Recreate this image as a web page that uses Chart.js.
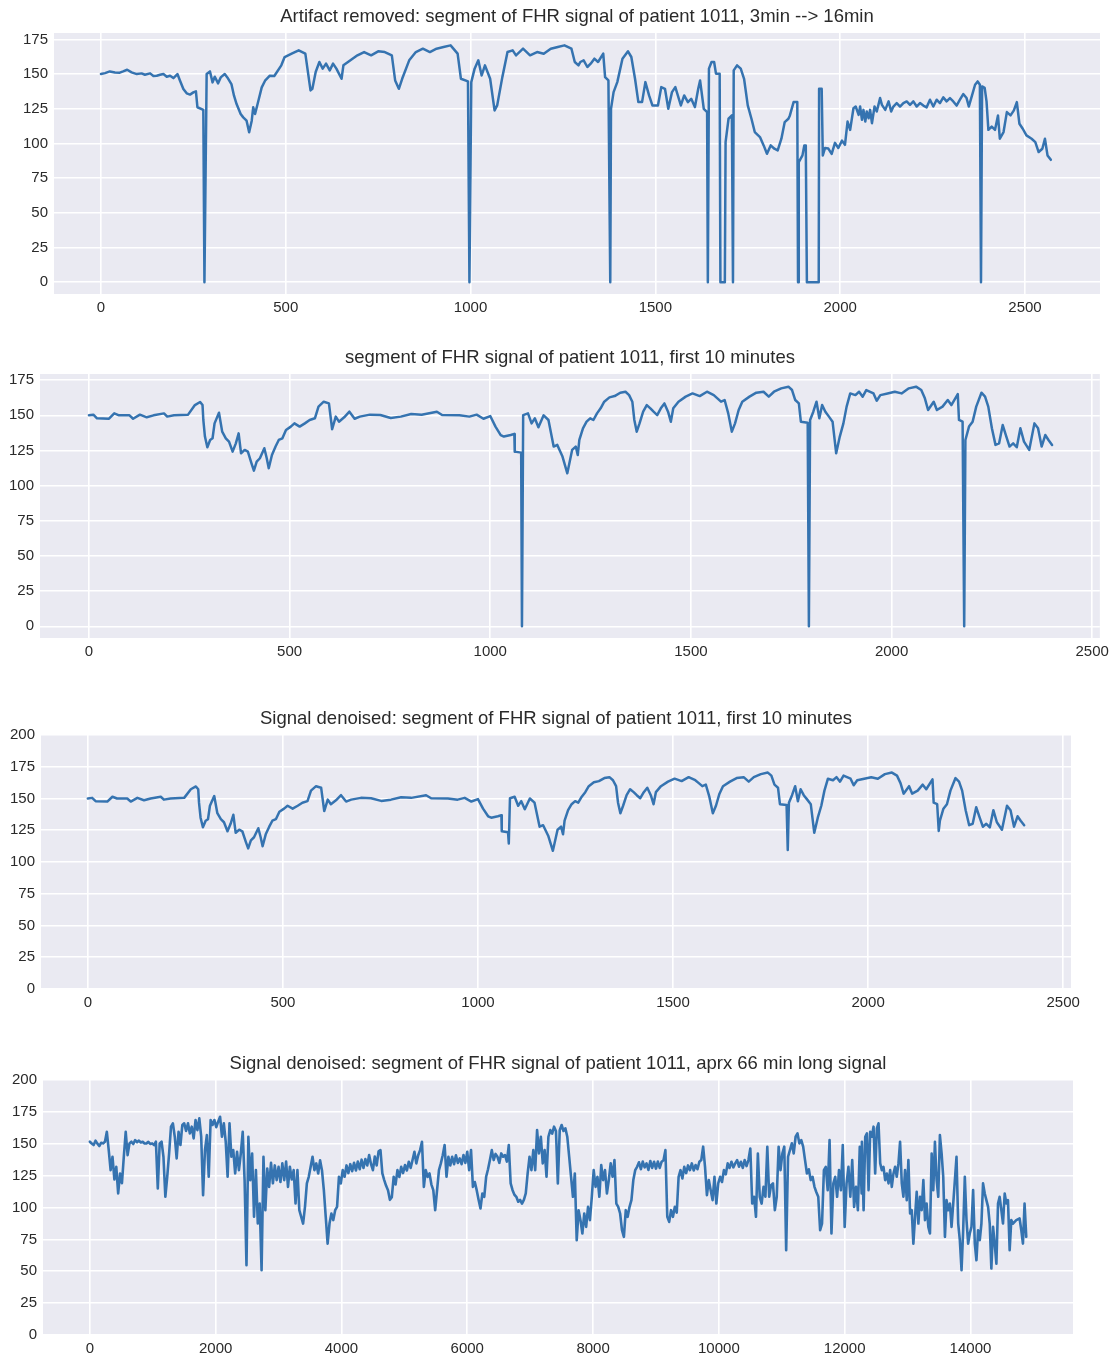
<!DOCTYPE html>
<html>
<head>
<meta charset="utf-8">
<script src="https://cdn.jsdelivr.net/npm/chart.js@4.4.1/dist/chart.umd.min.js"></script>
<style>
  html,body{margin:0;padding:0;background:#fff;}
  body{width:1114px;height:1355px;position:relative;overflow:hidden;}
  canvas{position:absolute;left:0;}
</style>
</head>
<body>
<script>
// ---------------- DATA ----------------
const titles = [
  "Artifact removed: segment of FHR signal of patient 1011, 3min --> 16min",
  "segment of FHR signal of patient 1011, first 10 minutes",
  "Signal denoised: segment of FHR signal of patient 1011, first 10 minutes",
  "Signal denoised: segment of FHR signal of patient 1011, aprx 66 min long signal"
];
const xTicksShort = [0, 500, 1000, 1500, 2000, 2500];
const xTicksLong = [0, 2000, 4000, 6000, 8000, 10000, 12000, 14000];
const yTicks175 = [0, 25, 50, 75, 100, 125, 150, 175];
const yTicks200 = [0, 25, 50, 75, 100, 125, 150, 175, 200];

// Panel 1: artifact removed, 3min --> 16min
const p1X = [0,11,24,38,51,60,71,83,97,110,
  119,133,142,151,160,169,178,187,196,207,
  214,223,232,241,250,257,261,277,280,286,
  295,302,308,317,324,335,342,353,360,367,
  378,385,394,401,408,412,417,426,435,444,
  457,469,488,497,516,535,553,567,
  572,581,591,600,609,619,628,637,651,656,
  675,694,712,731,750,768,787,796,806,815,
  834,852,871,890,908,927,946,965,974,993,
  997,1002,1011,1021,1030,1039,1053,1065,1072,1086,
  1100,1114,1123,1142,1161,1180,1198,1217,1236,1254,
  1273,1282,1292,1297,1306,1316,1325,1335,1345,1359,
  1364,1373,1378,1380,1387,1397,1411,1426,1435,1445,
  1454,1464,1473,1483,1492,1507,1516,1526,1535,1545,
  1554,1569,1578,1588,1597,1607,1616,1621,1631,1640,
  1642,1645,1652,1659,1664,1674,1676,1688,1690,1698,
  1707,1710,1712,1721,1731,1740,1750,1760,1769,1783,
  1793,1802,1812,1822,1831,1841,1850,1860,1864,1874,
  1884,1886,1888,1898,1903,1907,1910,1942,1943,1950,
  1953,1959,1968,1977,1986,1995,2005,2013,2020,2027,
  2036,2042,2050,2054,2059,2063,2068,2072,2077,2081,
  2086,2093,2099,2108,2113,2122,2131,2138,2144,2153,
  2162,2171,2180,2189,2198,2207,2216,2225,2234,2243,
  2252,2261,2270,2279,2288,2297,2306,2315,2324,2333,
  2342,2348,2356,2365,2372,2378,2381,2384,2391,2396,
  2401,2410,2419,
  2427,2432,2442,2451,2461,2470,2478,2485,2494,
  2504,2518,2528,2537,2547,2554,2561,2570];
const p1Y = [150,150.7,151.9,151.2,151,151.9,153.1,151.2,150,150.5,
  149.5,150.5,148.6,148.8,149.5,150,148.1,148.8,147.1,150,
  145.2,139.2,136.1,135.2,136.8,137.6,126.1,124.2,0,150,
  151.9,144,148.1,143.3,147.6,150,147.6,142.8,134.4,128.4,
  121.2,118.8,116.4,108,116.4,126.1,121.2,130.8,140.4,145.2,
  148.8,148.6,156.3,162.3,164.7,167.1,164.7,138.2,
  139.4,151.5,158.7,153.9,157.5,152.7,157.5,153.9,146.6,156.3,
  159.9,163.5,165.9,163.5,166.4,165.9,163.5,145.4,139.4,146.6,
  159.9,165.9,168.3,165.9,168.3,169.5,170.7,164.7,146.6,144.7,
  0,144.2,153.9,159.9,149,156.3,146.6,123.8,127.4,147.8,
  165.9,167.1,163.5,168.3,163.5,165.9,164.7,168.3,169.5,170.7,
  168.3,158.7,156.3,158.7,159.9,155.1,157.5,161.1,158.7,164.7,
  147.8,145.4,0,125,137,144.2,161.1,166.4,162.3,146.6,
  129.8,129.8,144.2,134.6,127.4,127.4,140.6,139.4,125,137,
  140.6,127.4,134.6,129.8,132.2,126.2,139.4,145.4,125,122.6,
  0,153.9,158.7,158.7,150.3,150.3,0,0,101,117.8,
  120.2,0,152.7,156.3,153.9,146.6,127.4,117.8,108.2,104.6,
  98.6,92.6,98.6,96.2,95,103.4,115.4,117.8,120.2,129.8,
  129.8,0,86.5,91.4,98.6,98.6,0,0,139.4,139.4,
  91.4,96.7,96.3,92.5,100.4,96.7,102,99,115.8,109.8,
  125.4,126.6,120.6,126.6,117,124.2,115.8,123,118.2,124.2,
  114.6,126.6,123,132.7,127.8,124.2,130.3,123,126.6,129.1,
  126.6,129.1,130.3,127.8,130.3,126.6,129.1,127.3,126,131.5,
  126.6,131.5,129.1,133.2,130.3,132.7,130.3,127.3,131.5,135.6,
  132.7,126.6,133.9,142.3,144.7,142.3,0,141.1,140,130.3,
  109.8,112.2,109.8,
  120.2,103.4,108.2,122.6,120.2,123.8,129.8,114.2,110.6,
  105.8,103.4,101,93.8,96.2,103.4,91.4,88.2];

// Panels 2 and 3: first 10 minutes (same sample positions)
const p2X = [0,11,20,50,63,75,101,110,127,144,
  161,187,195,212,247,264,277,283,285,289,
  295,302,308,313,324,332,341,349,358,366,
  373,379,388,396,405,411,418,426,437,443,
  448,456,465,473,482,491,503,512,525,538,
  550,563,572,585,598,606,615,623,636,649,
  662,675,700,726,752,777,803,829,867,880,
  923,948,966,983,1000,1013,1026,1034,1051,1060,
  1061,1077,1079,1082,1094,1103,1111,1120,1133,1145,
  1158,1167,1180,1192,1204,1213,1218,1222,1231,1240,
  1249,1257,1266,1275,1284,1297,1310,1324,1337,1346,
  1354,1359,1365,1372,1381,1390,1399,1407,1416,1425,
  1434,1443,1450,1456,1469,1487,1504,1522,1540,1557,
  1566,1575,1584,1593,1602,1610,1619,1628,1646,1663,
  1681,1694,1707,1725,1743,1752,1760,1769,1774,1791,
  1794,1797,1805,1813,1820,1827,1835,1844,1853,1862,
  1871,1880,1888,1897,1910,1919,1928,1937,1955,1963,
  1972,1990,2008,2025,2043,2061,2074,2083,2091,2105,
  2113,2127,2140,2149,2165,2168,2177,2181,2184,2193,
  2202,2211,2224,2233,2241,2250,2259,2268,2277,2286,
  2294,2303,2312,2321,2330,2343,2356,2365,2374,2383,
  2391,2400];
const p2Y = [150,150.5,147.9,147.6,151.4,150,150,147.6,150.5,148.6,
  150,151.4,149.1,150,150.5,157.3,159.5,157.3,146.7,134.9,
  127.3,132.5,133.7,144.3,151.9,138.4,133.7,131.3,124.2,130.1,
  137.2,123,125.4,124.2,115.9,110.7,117.1,119.5,126.6,119.5,
  112.4,121.8,127.8,132.5,133.7,139.6,142,144.3,142,144.3,
  146.7,147.9,156.2,159.7,158.5,140.1,149.1,145.5,148.6,152.6,
  147.6,149.1,150.5,150.2,148.1,149.1,151,150.5,152.6,150.2,
  150,149.1,150.5,147.6,149.5,142,136,134.9,136,136.8,
  124.2,123.5,0,150.2,151.4,144.3,147.9,141.5,150,146.7,
  127.8,129,120.7,108.8,125.4,127.8,121.8,132.5,140.8,145.5,
  147.9,146.7,151.4,155,159.7,162.8,163.7,166.1,166.8,164.4,
  159.7,146.7,138.4,144.3,152.6,157.3,155,152.6,150.2,155,
  158.5,152.6,145.5,155,159.7,163.3,165.6,163.7,166.8,164.4,
  162.1,159.7,160.9,151.4,138.4,144.3,153.8,159.7,163.3,166.1,
  166.8,163.3,166.8,169.2,170.4,168,160.9,158.5,145.5,144.8,
  0,146.7,152.6,159.7,147.9,157.3,152.6,149.1,145.5,123,
  134.9,144.3,156.2,165.6,164.4,166.8,163.3,168,165.6,160.4,
  164.4,165.6,166.8,165.6,169.2,170.4,168,162.1,153.8,159.7,
  153.8,156.2,160.9,157.3,165.1,146.7,145.5,0,132.5,142,
  145.5,156.2,166.1,163.3,156.2,140.8,129,130.1,143.1,134.9,
  127.8,130.1,127.3,140.8,131.3,125.4,144.3,140.8,127.8,136,
  132.5,129];
const p3Y = [150,150.5,147.9,147.6,151.4,150,150,147.6,150.5,148.6,
  150,151.4,149.1,150,150.5,157.3,159.5,157.3,146.7,134.9,
  127.3,132.5,133.7,144.3,151.9,138.4,133.7,131.3,124.2,130.1,
  137.2,123,125.4,124.2,115.9,110.7,117.1,119.5,126.6,119.5,
  112.4,121.8,127.8,132.5,133.7,139.6,142,144.3,142,144.3,
  146.7,147.9,156.2,159.7,158.5,140.1,149.1,145.5,148.6,152.6,
  147.6,149.1,150.5,150.2,148.1,149.1,151,150.5,152.6,150.2,
  150,149.1,150.5,147.6,149.5,142,136,134.9,136,136.8,
  124.2,123.5,114.6,150.2,151.4,144.3,147.9,141.5,150,146.7,
  127.8,129,120.7,108.8,125.4,127.8,121.8,132.5,140.8,145.5,
  147.9,146.7,151.4,155,159.7,162.8,163.7,166.1,166.8,164.4,
  159.7,146.7,138.4,144.3,152.6,157.3,155,152.6,150.2,155,
  158.5,152.6,145.5,155,159.7,163.3,165.6,163.7,166.8,164.4,
  162.1,159.7,160.9,151.4,138.4,144.3,153.8,159.7,163.3,166.1,
  166.8,163.3,166.8,169.2,170.4,168,160.9,158.5,145.5,144.8,
  109.4,146.7,152.6,159.7,147.9,157.3,152.6,149.1,145.5,123,
  134.9,144.3,156.2,165.6,164.4,166.8,163.3,168,165.6,160.4,
  164.4,165.6,166.8,165.6,169.2,170.4,168,162.1,153.8,159.7,
  153.8,156.2,160.9,157.3,165.1,146.7,145.5,124.5,132.5,142,
  145.5,156.2,166.1,163.3,156.2,140.8,129,130.1,143.1,134.9,
  127.8,130.1,127.3,140.8,131.3,125.4,144.3,140.8,127.8,136,
  132.5,129];

// Panel 4: ~66 min long denoised signal
// first part: one reading every p4Step samples, from sample 0 to 12270
const p4Step = 30;
const p4aY = [
  151.6,150.2,149.0,152.4,150.1,148.2,150.8,150.3,151.5,159.4,
  145,129.3,139.8,122,131.9,111,126.7,119,140,159.4,
  141.1,150.3,151.6,149.8,152.9,151.2,152.5,151,151.6,150.2,
  150.3,151.5,149.8,150.3,149,151.6,114.9,150.3,151.6,139.8,
  108.4,124.1,142.4,163.4,166,155.5,138.5,159.4,149,164.7,
  166,160,166,158.1,163.4,154.2,168.6,160.7,169.9,155.5,
  109.7,145,156.8,124.1,168.6,164.7,168.6,163,167.3,171.2,
  155.5,166,151.6,124.1,166,139.8,145,126.7,143.7,129.3,
  142.4,159.4,121.5,54.7,155.5,121.5,142.4,92.7,129.3,87.4,
  103.1,50.8,139.8,97.9,130.6,116.2,135,119,133,121.5,
  131.9,120,134.6,121.5,136,116.2,132,122,129.3,103.1,
  129.3,97.9,92.7,87.4,100.5,118.9,124.1,131.9,139.8,129.3,
  134.6,126.7,137,129.3,113.6,92.7,71.7,87.4,95.3,90.1,
  97.9,100.5,124.1,118.9,129.3,124.1,133,127,134,128.5,
  135,129,136,130,137.5,131,138,133,141.1,134,
  129.3,140,133,144,145,126.7,121.5,117,113.6,106,
  108,124.1,118,129.3,124,131.9,127,133.3,129,135.9,
  131,137.2,143.7,134.6,141,145,151.6,116.2,129.3,124,
  126.7,118,113.6,97.9,113.6,129.3,134.6,141,149,124.1,
  139.8,133,139.8,134,141,135,138.5,134,141.1,135,
  143.7,129.3,145,116.2,120,113.6,106,99.2,111,108.4,
  124.1,130,137.2,145,137.2,142,139.8,135,142.4,139.8,
  141.1,136,149,118.9,113.6,110,108.4,104.5,106,103.1,
  106,111,126.7,139.8,129.3,145,129.3,160.7,142.4,155.5,
  134.6,145,124.1,155.5,160.7,158,163.4,160,118.9,160.7,
  164.7,160,162.1,155.5,140,124.1,108.4,126.7,74.4,97.9,
  90.1,79.6,95.3,84.8,100.5,90.1,108.4,129.3,116.2,124.1,
  108.4,133.3,121.5,129.3,111,121.5,134.6,124.1,137.2,103.1,
  100.5,95.3,82.2,77,97.9,92.7,100.5,105.8,121.5,129.3,
  131.9,135.5,130,136,131.5,134.6,129.5,136.5,131,135.9,
  130.5,136,131,135.9,137,145,92.7,88.7,97.9,92.7,
  100.5,96,124.1,129.3,122.8,131.9,127,133,129.3,134.6,
  129,133.3,130,135.9,137.2,147.7,131.9,109.7,121.5,113.6,
  105.8,124.1,103.1,118.9,124.1,120,129.3,126,134.6,131,
  135.9,131.5,134.6,137.2,132,135.9,131,137.2,132.5,137.2,
  146.3,103.1,108.4,92.7,142.4,108.4,103.1,116.2,108.4,147.7,
  108.4,117.5,118.9,97.9,108.4,147.7,129.3,142.4,147.7,66.5,
  139.8,145,150.3,142.4,155.5,158.1,150.3,152.9,147.7,137.2,
  126.7,130,121.5,124,116.2,112,108.4,82.2,87.4,129.3,
  131.9,113.6,152.9,79.6,118.9,124.1,108.4,129.3,113.6,149,
  84.8,118.9,131.9,108.4,137.2,100.5,116.2,97.9,147.7,111];
// last part: sample positions read individually
const p4bX = [12274,12301,12327,12354,12380,12406,12433,12459,12485,12512,
  12538,12565,12591,12617,12644,12670,12697,12723,12749,12776,
  12802,12828,12855,12881,12908,12934,12960,12987,13013,13040,
  13066,13092,13119,13145,13172,13198,13224,13251,13277,13303,
  13330,13356,13383,13409,13435,13462,13488,13514,13541,13567,
  13594,13620,13646,13673,13699,13726,13778,13805,13831,13858,
  13884,13910,13937,13963,13989,14016,14042,14069,14095,14121,
  14148,14174,14200,14227,14253,14280,14306,14332,14359,14385,
  14412,14438,14464,14491,14517,14544,14570,14596,14623,14649,
  14676,14728,14781,14808,14834,14860,14887];
const p4bY = [151.6,97.9,155.5,158.1,113.6,159.4,155.5,163.4,126.7,162.1,
  166,134.6,129.3,131.9,121.5,126.7,118.9,129.3,116.2,126.7,
  131.9,124.1,134.6,151.6,118.9,108.4,129.3,105.8,137.2,95.3,
  97.9,71.7,92.7,112.3,87.4,108.4,97.9,121.5,90.1,103.1,
  84.8,79.6,142.4,113.6,151.6,121.5,108.4,156.8,142.4,124.1,
  77,105.8,97.9,103.1,84.8,103.1,139.8,87.4,74.4,50.8,
  82.2,124.1,90.1,71.7,79.6,84.8,113.6,71.7,58.6,82.2,
  74.4,87.4,118.9,111,105.8,100.5,87.4,52.1,84.8,71.7,
  56,103.1,108.4,97.9,87.4,111,103.1,105.8,66.5,90.1,
  87.4,90.1,91.4,82.2,71.7,103.1,77];

// ---------------- RENDERING ----------------
const LINE_COLOR = '#3573b0';
const BG = '#eaeaf2';
const TEXT = '#2a2a2a';
const FONT = "'Liberation Sans', Arial, Helvetica, sans-serif";

const toPts = (xs, ys) => xs.map((xv, i) => ({x: xv, y: ys[i]}));
const p4Points = p4aY.map((yv, i) => ({x: i * p4Step, y: yv})).concat(toPts(p4bX, p4bY));

const panels = [
  {pts: toPts(p1X, p1Y), title: titles[0], xt: xTicksShort, yt: yTicks175, lw: 2.5,
   g: {L: 54, R: 1100, T: 33, B: 294, xmin: -127, xmax: 2703, ymin: -8.5, ymax: 179.6}},
  {pts: toPts(p2X, p2Y), title: titles[1], xt: xTicksShort, yt: yTicks175, lw: 2.5,
   g: {L: 40, R: 1101, T: 374, B: 638, xmin: -122, xmax: 2519, ymin: -8.3, ymax: 179.4}},
  {pts: toPts(p2X, p3Y), title: titles[2], xt: xTicksShort, yt: yTicks200, lw: 2.5,
   g: {L: 41, R: 1071, T: 735, B: 989, xmin: -120, xmax: 2520, ymin: 0, ymax: 200}},
  {pts: p4Points, title: titles[3], xt: xTicksLong, yt: yTicks200, lw: 2.6,
   g: {L: 43, R: 1073, T: 1080, B: 1335, xmin: -745, xmax: 15630, ymin: 0, ymax: 200}}
];

const bgPlugin = {
  id: 'axesBg',
  beforeDraw(chart) {
    const a = chart.chartArea, c = chart.ctx;
    c.save();
    c.fillStyle = BG;
    c.fillRect(a.left, a.top, a.right - a.left, a.bottom - a.top);
    c.restore();
  }
};

const TITLE_BLOCK = 34, XAXIS_H = 30;

panels.forEach((p) => {
  const g = p.g;
  const cv = document.createElement('canvas');
  const top = g.T - TITLE_BLOCK;
  const h = (g.B - g.T) + TITLE_BLOCK + XAXIS_H;
  cv.width = 1114; cv.height = h;
  cv.style.top = top + 'px';
  cv.style.width = '1114px'; cv.style.height = h + 'px';
  document.body.appendChild(cv);

  const tickFont = {family: FONT, size: 15};
  new Chart(cv.getContext('2d'), {
    type: 'line',
    data: {
      datasets: [{
        data: p.pts,
        borderColor: LINE_COLOR,
        borderWidth: p.lw,
        pointRadius: 0,
        tension: 0,
        fill: false,
        borderJoinStyle: 'round',
        borderCapStyle: 'round'
      }]
    },
    options: {
      responsive: false,
      animation: false,
      devicePixelRatio: 1,
      events: [],
      layout: {padding: {left: 0, right: 1114 - g.R, top: 0, bottom: 0}},
      plugins: {
        legend: {display: false},
        tooltip: {enabled: false},
        title: {
          display: true, text: p.title, fullSize: false, color: TEXT,
          font: {family: FONT, size: 18.5, weight: 'normal', lineHeight: 1.2},
          padding: {top: 6.9, bottom: 4.9}
        }
      },
      scales: {
        x: {
          type: 'linear', min: g.xmin, max: g.xmax,
          afterBuildTicks: s => { s.ticks = p.xt.map(v => ({value: v})); },
          afterFit: s => { s.height = XAXIS_H; },
          grid: {color: '#ffffff', lineWidth: 1.6, drawTicks: false},
          border: {display: false},
          ticks: {padding: 5, color: TEXT, font: tickFont, maxRotation: 0, autoSkip: false,
                  callback: v => String(v)}
        },
        y: {
          type: 'linear', min: g.ymin, max: g.ymax,
          afterBuildTicks: s => { s.ticks = p.yt.map(v => ({value: v})); },
          afterFit: s => { s.width = g.L; },
          grid: {color: '#ffffff', lineWidth: 1.6, drawTicks: false},
          border: {display: false},
          ticks: {padding: 6, color: TEXT, font: tickFont, autoSkip: false,
                  callback: v => String(v)}
        }
      }
    },
    plugins: [bgPlugin]
  });
});
</script>
</body>
</html>
